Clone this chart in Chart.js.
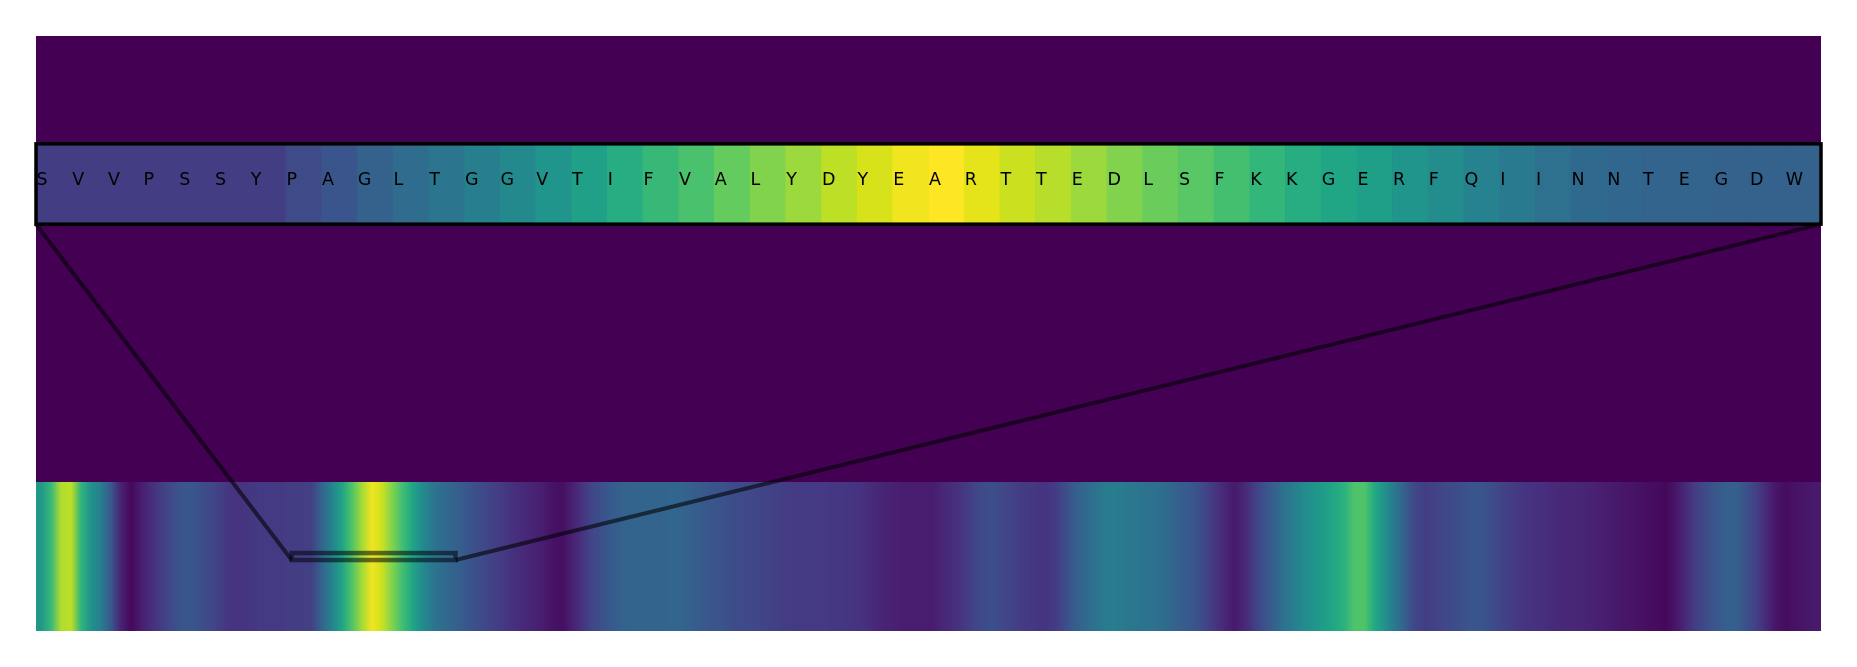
<!DOCTYPE html>
<html>
<head>
<meta charset="utf-8">
<script src="https://cdn.jsdelivr.net/npm/chart.js@4"></script>
<style>
html,body{margin:0;padding:0;background:#ffffff;}
#c{display:block;}
</style>
</head>
<body>
<canvas id="c" width="1857" height="667"></canvas>
<script>
// ---------------- data ----------------
const residues = ['S','V','V','P','S','S','Y','P','A','G','L','T','G','G','V','T','I','F','V','A',
                  'L','Y','D','Y','E','A','R','T','T','E','D','L','S','F','K','K','G','E','R','F',
                  'Q','I','I','N','N','T','E','G','D','W'];

const windowValues = [0.18,0.18,0.18,0.18,0.18,0.18,0.18,0.22,0.26,0.31,
                      0.35,0.39,0.43,0.47,0.52,0.57,0.62,0.67,0.71,0.76,
                      0.81,0.85,0.90,0.94,0.98,1.00,0.96,0.92,0.89,0.85,
                      0.81,0.77,0.74,0.70,0.66,0.62,0.59,0.56,0.52,0.48,
                      0.44,0.41,0.37,0.34,0.33,0.32,0.32,0.31,0.31,0.31];

// full-sequence profile, one value per 3 residues
const profileValues = [
  0.53,0.67,0.88,0.90,0.65,0.50,0.42,0.27,0.09,0.02,
  0.08,0.13,0.18,0.22,0.26,0.27,0.24,0.21,0.18,0.15,
  0.15,0.16,0.17,0.17,0.17,0.18,0.18,0.19,0.32,0.44,
  0.58,0.72,0.86,0.98,0.92,0.81,0.70,0.59,0.48,0.40,
  0.35,0.32,0.29,0.25,0.22,0.19,0.17,0.14,0.12,0.10,
  0.08,0.05,0.04,0.09,0.15,0.21,0.25,0.29,0.31,0.32,
  0.32,0.32,0.32,0.33,0.32,0.30,0.28,0.26,0.25,0.23,
  0.22,0.21,0.20,0.19,0.18,0.17,0.17,0.17,0.17,0.16,
  0.16,0.15,0.14,0.12,0.10,0.09,0.08,0.08,0.08,0.08,
  0.11,0.13,0.16,0.20,0.23,0.24,0.21,0.19,0.17,0.16,
  0.15,0.17,0.22,0.29,0.33,0.37,0.41,0.42,0.41,0.39,
  0.38,0.37,0.35,0.32,0.29,0.26,0.21,0.16,0.11,0.07,
  0.11,0.18,0.25,0.31,0.38,0.43,0.48,0.52,0.56,0.60,
  0.64,0.72,0.72,0.60,0.50,0.40,0.30,0.21,0.18,0.19,
  0.21,0.23,0.25,0.27,0.25,0.22,0.19,0.17,0.15,0.14,
  0.13,0.12,0.11,0.11,0.10,0.09,0.08,0.07,0.06,0.05,
  0.04,0.03,0.02,0.06,0.12,0.18,0.23,0.27,0.30,0.30,
  0.25,0.19,0.12,0.06,0.03,0.05,0.06,0.07
];
const residuesPerSample = 3;
const sequenceLength = profileValues.length * residuesPerSample; // 534
const windowStart = 76;            // first residue of the zoomed window
const windowLength = residues.length;

// ---------------- layout / style ----------------
const Y_MAX = 4;
const PROFILE_Y = [0, 1];
const WINDOW_Y = [2.735, 3.275];
const BOX_Y = [0.477, 0.524];

const viridisStops = ['#440154','#471365','#482475','#463480','#414487','#3b528b','#355f8d',
  '#2f6c8e','#2a788e','#25848e','#21918c','#1e9c89','#22a884','#2fb47c','#44bf70','#5ec962',
  '#7ad151','#9bd93c','#bddf26','#dfe318','#fde725'];
const viridisRGB = viridisStops.map(h => [parseInt(h.substr(1,2),16),parseInt(h.substr(3,2),16),parseInt(h.substr(5,2),16)]);
function viridis(v){
  v = Math.max(0, Math.min(1, v));
  const f = v * (viridisRGB.length - 1);
  const i = Math.min(viridisRGB.length - 2, Math.floor(f));
  const t = f - i;
  const a = viridisRGB[i], b = viridisRGB[i+1];
  const c = a.map((x,k) => Math.round(x + (b[k]-x)*t));
  return 'rgb(' + c.join(',') + ')';
}

let gradCache = null, gradKey = '';
function profileGradient(ctx){
  const chart = ctx.chart;
  const area = chart.chartArea;
  if (!area) return viridis(profileValues[0]);
  const key = area.left + '_' + area.right;
  if (gradCache && gradKey === key) return gradCache;
  const xs = chart.scales.x;
  const g = chart.ctx.createLinearGradient(area.left, 0, area.right, 0);
  const w = area.right - area.left;
  profileValues.forEach((v, i) => {
    const px = xs.getPixelForValue(i * residuesPerSample + residuesPerSample / 2);
    g.addColorStop(Math.max(0, Math.min(1, (px - area.left) / w)), viridis(v));
  });
  gradCache = g; gradKey = key;
  return g;
}

const overlayPlugin = {
  id: 'overlay',
  beforeDatasetsDraw(chart){
    const {ctx, chartArea: a} = chart;
    ctx.save();
    ctx.fillStyle = viridis(0);
    ctx.fillRect(a.left, a.top, a.right - a.left, a.bottom - a.top);
    ctx.restore();
  },
  afterDatasetsDraw(chart){
    const {ctx} = chart;
    const xs = chart.scales.x, x2 = chart.scales.x2, ys = chart.scales.y;
    const wl = x2.getPixelForValue(0), wr = x2.getPixelForValue(windowLength);
    const wt = ys.getPixelForValue(WINDOW_Y[1]), wb = ys.getPixelForValue(WINDOW_Y[0]);
    const bl = xs.getPixelForValue(windowStart + 0.5), br = xs.getPixelForValue(windowStart + windowLength - 0.5);
    const bt = ys.getPixelForValue(BOX_Y[1]), bb = ys.getPixelForValue(BOX_Y[0]);
    ctx.save();
    // connecting lines
    ctx.strokeStyle = 'rgba(0,0,0,0.58)';
    ctx.lineWidth = 4;
    ctx.lineCap = 'butt';
    ctx.beginPath();
    ctx.moveTo(wl, wb); ctx.lineTo(bl, bb);
    ctx.moveTo(wr, wb); ctx.lineTo(br, bb);
    ctx.stroke();
    // zoom box on the profile
    ctx.strokeStyle = 'rgba(0,0,10,0.55)';
    ctx.lineWidth = 4.5;
    ctx.strokeRect(bl, bt, br - bl, bb - bt);
    // window border
    ctx.strokeStyle = '#000000';
    ctx.lineWidth = 3.5;
    ctx.strokeRect(wl, wt, wr - wl, wb - wt);
    // residue letters
    const meta = chart.getDatasetMeta(1);
    ctx.fillStyle = '#000000';
    ctx.font = '17.5px "DejaVu Sans"';
    ctx.textAlign = 'left';
    ctx.textBaseline = 'alphabetic';
    const base = (wt + wb) / 2 + 1;
    meta.data.forEach((bar, j) => {
      const left = bar.x - bar.width / 2;
      ctx.fillText(residues[j], left + 0.5, base);
    });
    ctx.restore();
  }
};

new Chart(document.getElementById('c'), {
  type: 'bar',
  data: {
    datasets: [
      {
        label: 'profile',
        xAxisID: 'x',
        data: profileValues.map((v, i) => ({x: i * residuesPerSample + residuesPerSample / 2, y: PROFILE_Y.slice()})),
        backgroundColor: profileGradient,
        borderWidth: 0,
        barPercentage: 1,
        categoryPercentage: 1,
        grouped: false
      },
      {
        label: 'window',
        xAxisID: 'x2',
        data: windowValues.map((v, j) => ({x: j + 0.5, y: WINDOW_Y.slice()})),
        backgroundColor: windowValues.map(viridis),
        borderWidth: 0,
        barPercentage: 1,
        categoryPercentage: 1,
        grouped: false
      }
    ]
  },
  options: {
    responsive: false,
    devicePixelRatio: 1,
    animation: false,
    layout: {padding: {left: 36, right: 36, top: 36, bottom: 36}},
    plugins: {legend: {display: false}, tooltip: {enabled: false}},
    scales: {
      x: {type: 'linear', min: 0, max: sequenceLength, display: false, offset: false},
      x2: {type: 'linear', min: 0, max: windowLength, display: false, offset: false},
      y: {type: 'linear', min: 0, max: Y_MAX, display: false}
    }
  },
  plugins: [overlayPlugin]
});
</script>
</body>
</html>
